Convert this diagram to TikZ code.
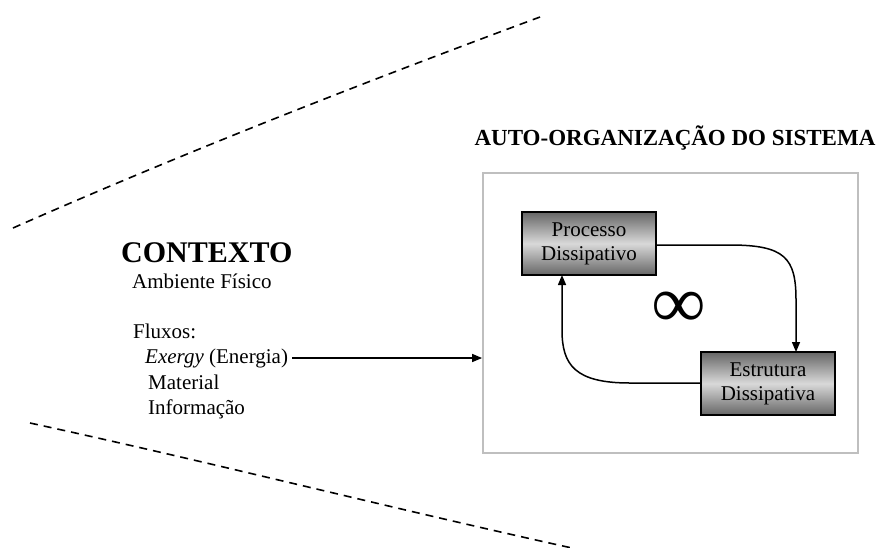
\documentclass[tikz,border=0pt]{standalone}
\usepackage{fontspec}
\setmainfont{Liberation Serif}
\usetikzlibrary{arrows.meta}
\begin{document}
\begin{tikzpicture}[x=1pt,y=-1pt,
  txt/.style={inner sep=0pt,anchor=base west,font=\fontsize{21}{21}\selectfont},
  procbox/.style={draw=black,line width=1.4pt,minimum width=134pt,minimum height=63pt,
    top color=gray!80!black,bottom color=gray!80!black,middle color=gray!30,
    align=center,font=\fontsize{21}{24}\selectfont,inner sep=0pt},
  flow/.style={-{Triangle[length=10pt,width=8pt]},line width=1.5pt},
  border/.style={line width=1.6pt,dash pattern=on 8pt off 6pt}]
\useasboundingbox (0,0) rectangle (882,547);

% context boundary
\draw[border] (13,228) .. controls (190,150) and (365,82) .. (540,17);
\draw[border] (30,423) .. controls (210,462) and (390,508) .. (572,548);

% system title and frame
\node[inner sep=0pt,anchor=base,font=\bfseries\fontsize{23}{23}\selectfont] (title) at (675,145) {AUTO-ORGANIZAÇÃO DO SISTEMA};
\node[draw=gray!50,line width=1.8pt,minimum width=375pt,minimum height=280pt,inner sep=0pt] (sys) at (670.5,313) {};

% dissipative loop
\node[procbox] (proc) at (589,243.5) {Processo\\Dissipativo};
\node[procbox] (estr) at (768,383.5) {Estrutura\\Dissipativa};
\node[inner sep=0pt,font=\bfseries\fontsize{74}{74}\selectfont] (inf) at (679,310) {∞};
\draw[flow] (proc.east |- 0,245) -- (730,245)
  .. controls (785,245) and (796,258) .. (796,300) -- (796,352);
\draw[flow] (estr.west |- 0,383) -- (630,383)
  .. controls (575,383) and (562,365) .. (562,330) -- (562,275);

% context text
\node[inner sep=0pt,anchor=base west,font=\bfseries\fontsize{30}{30}\selectfont] (ctx) at (121,262) {CONTEXTO};
\node[txt] (amb) at (132,288) {Ambiente Físico};
\node[txt] (flux) at (133,338) {Fluxos:};
\node[txt] (exe) at (145,363) {\textit{Exergy} (Energia)};
\node[txt] (mat) at (148,389) {Material};
\node[txt] (info) at (148,414) {Informação};
\coordinate (src) at (292,358);
\draw[flow] (src) -- (sys.west |- src);
\end{tikzpicture}
\end{document}
